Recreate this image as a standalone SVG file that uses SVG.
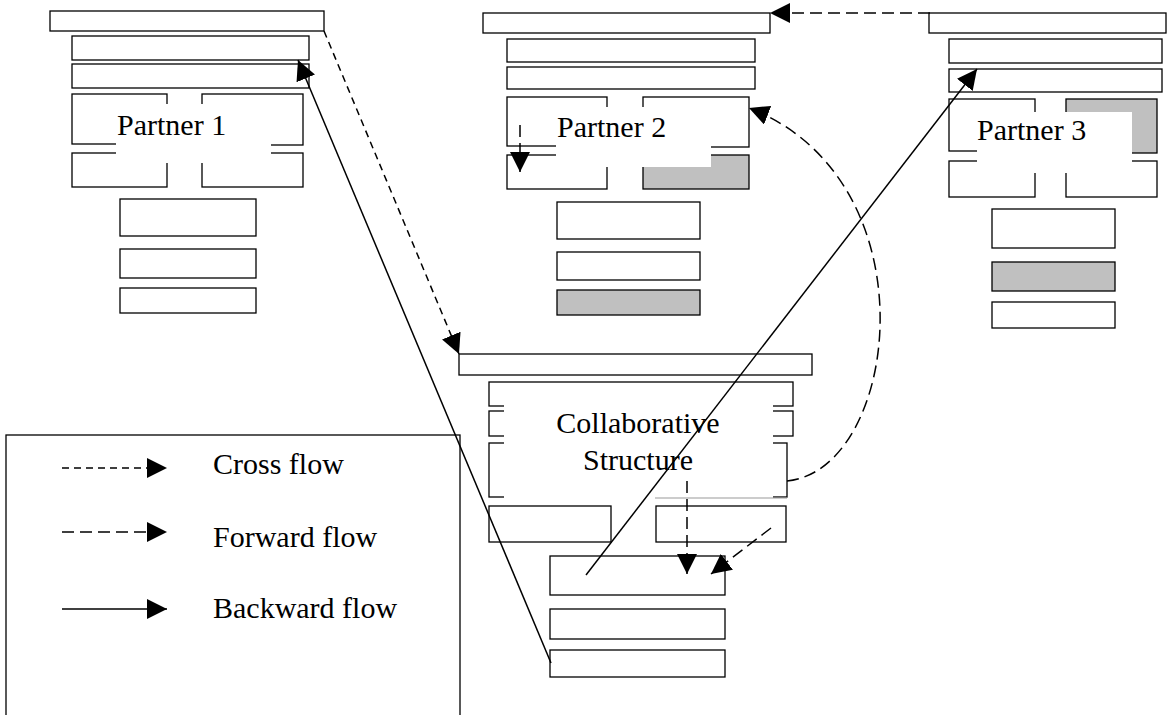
<svg xmlns="http://www.w3.org/2000/svg" width="1167" height="715" viewBox="0 0 1167 715">
<defs>
<style>
.b{fill:#fff;stroke:#000;stroke-width:1.3}
.g{fill:#c0c0c0;stroke:#000;stroke-width:1.3}
.w{fill:#fff;stroke:none}
.t{font-family:"Liberation Serif","Times New Roman",serif;font-size:30px;fill:#000}
.c{fill:none;stroke:#000;stroke-width:1.5}
.cross{stroke-dasharray:7 5}
.fwd{stroke-dasharray:12 6}
</style>
<marker id="ah" markerUnits="userSpaceOnUse" markerWidth="20" markerHeight="20" refX="20" refY="10" orient="auto">
<path d="M0,0 L20,10 L0,20 z" fill="#000"/>
</marker>
</defs>
<rect width="1167" height="715" fill="#fff"/>

<g id="partner1">
<rect class="b" x="50" y="11" width="274" height="20"/>
<rect class="b" x="72" y="36" width="237" height="24"/>
<rect class="b" x="72" y="64" width="237" height="24"/>
<rect class="b" x="72" y="94" width="95" height="50"/>
<rect class="b" x="202" y="94" width="101" height="51"/>
<rect class="b" x="72" y="153" width="95" height="34"/>
<rect class="b" x="202" y="153" width="101" height="34"/>
<rect class="w" x="116" y="104" width="155" height="59"/>
<text class="t" x="117" y="135">Partner 1</text>
<rect class="b" x="120" y="199" width="136" height="37"/>
<rect class="b" x="120" y="249" width="136" height="29"/>
<rect class="b" x="120" y="288" width="136" height="25"/>
</g>

<g id="partner2">
<rect class="b" x="483" y="13" width="287" height="20"/>
<rect class="b" x="507" y="39" width="248" height="23"/>
<rect class="b" x="507" y="67" width="248" height="22"/>
<rect class="b" x="507" y="97" width="100" height="49"/>
<rect class="b" x="643" y="97" width="106" height="50"/>
<rect class="b" x="507" y="155" width="100" height="34"/>
<rect class="g" x="643" y="155" width="106" height="34"/>
<rect class="w" x="556" y="107" width="155" height="60"/>
<text class="t" x="557" y="137">Partner 2</text>
<rect class="b" x="557" y="202" width="143" height="37"/>
<rect class="b" x="557" y="252" width="143" height="28"/>
<rect class="g" x="557" y="290" width="143" height="25"/>
</g>

<g id="partner3">
<rect class="b" x="929" y="13" width="237" height="20"/>
<rect class="b" x="949" y="39" width="213" height="24"/>
<rect class="b" x="949" y="69" width="213" height="23"/>
<rect class="b" x="949" y="99" width="86" height="52"/>
<rect class="g" x="1066" y="99" width="91" height="54"/>
<rect class="b" x="949" y="161" width="86" height="36"/>
<rect class="b" x="1066" y="161" width="91" height="36"/>
<rect class="w" x="977" y="112" width="155" height="61"/>
<text class="t" x="977" y="140">Partner 3</text>
<rect class="b" x="992" y="209" width="123" height="39"/>
<rect class="g" x="992" y="262" width="123" height="29"/>
<rect class="b" x="992" y="302" width="123" height="26"/>
</g>

<g id="collab">
<rect class="b" x="459" y="354" width="353" height="21"/>
<rect class="b" x="489" y="382" width="304" height="24"/>
<rect class="b" x="489" y="411" width="304" height="25"/>
<rect class="b" x="489" y="443" width="298" height="54"/>
<rect class="w" x="504" y="385" width="269" height="113"/>
<line x1="655" y1="498" x2="787" y2="498" stroke="#999" stroke-width="1"/>
<text class="t" text-anchor="middle" x="638" y="433">Collaborative</text>
<text class="t" text-anchor="middle" x="638" y="470">Structure</text>
<rect class="b" x="489" y="506" width="122" height="36"/>
<rect class="b" x="656" y="506" width="130" height="36"/>
<rect class="b" x="550" y="556" width="175" height="39"/>
<rect class="b" x="550" y="609" width="175" height="30"/>
<rect class="b" x="550" y="650" width="175" height="27"/>
</g>

<g id="legend">
<rect class="b" x="6" y="435" width="454" height="290"/>
<line class="c cross" x1="62" y1="468" x2="167" y2="468" marker-end="url(#ah)"/>
<line class="c fwd" x1="62" y1="532" x2="167" y2="532" marker-end="url(#ah)"/>
<line class="c" x1="62" y1="609" x2="167" y2="609" marker-end="url(#ah)"/>
<text class="t" x="213" y="474">Cross flow</text>
<text class="t" x="213" y="547">Forward flow</text>
<text class="t" x="213" y="618">Backward flow</text>
</g>

<g id="connectors">
<line class="c cross" x1="324" y1="31" x2="459" y2="354" marker-end="url(#ah)"/>
<line class="c fwd" x1="930" y1="13" x2="770" y2="13" marker-end="url(#ah)"/>
<line class="c fwd" x1="520" y1="125" x2="520" y2="172" marker-end="url(#ah)"/>
<path class="c fwd" d="M787,481 C900,470 935,180 749,108" marker-end="url(#ah)"/>
<line class="c fwd" x1="687" y1="481" x2="687" y2="574" marker-end="url(#ah)"/>
<line class="c fwd" x1="771" y1="528" x2="711" y2="574" marker-end="url(#ah)"/>
<line class="c" x1="586" y1="575" x2="977" y2="69" marker-end="url(#ah)"/>
<line class="c" x1="551" y1="663" x2="298" y2="60" marker-end="url(#ah)"/>
</g>
</svg>
